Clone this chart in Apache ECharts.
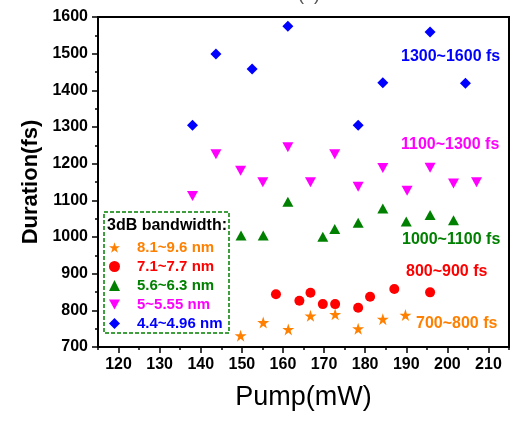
<!DOCTYPE html>
<html>
<head>
<meta charset="utf-8">
<script src="https://cdn.jsdelivr.net/npm/echarts@6/dist/echarts.min.js"></script>
<style>
  html, body { margin: 0; padding: 0; background: #fff; }
  #chart { width: 513px; height: 421px; }
</style>
</head>
<body>
<div id="chart"></div>
<script>
// values
const pumpOrange = [149.7, 155.2, 161.3, 166.7, 172.7, 178.3, 184.3, 189.8];
const durOrange = [731, 767, 748, 785, 789, 750, 776, 787];
const pumpRed = [158.3, 164.0, 166.7, 169.7, 172.7, 178.3, 181.2, 187.1, 195.8];
const durRed = [844, 826, 848, 817, 817, 807, 837, 858, 849];
const pumpGreen = [149.8, 155.2, 161.2, 169.7, 172.6, 178.3, 184.3, 190.0, 195.8, 201.5];
const durGreen = [1004, 1004, 1096, 1001, 1022, 1039, 1078, 1042, 1060, 1046];
const pumpMagenta = [138.0, 143.7, 149.7, 155.1, 161.2, 166.7, 172.6, 178.3, 184.3, 190.2, 195.8, 201.5, 207.1];
const durMagenta = [1112, 1226, 1181, 1149, 1245, 1149, 1226, 1137, 1188, 1126, 1189, 1146, 1149];
const pumpBlue = [138.0, 143.7, 152.5, 161.2, 178.3, 184.3, 195.8, 204.4];
const durBlue = [1305, 1499, 1458, 1575, 1305, 1421, 1559, 1419];

const seriesNames = ['8.1~9.6 nm', '7.1~7.7 nm', '5.6~6.3 nm', '5~5.55 nm', '4.4~4.96 nm'];
const rangeLabels = ['700~800 fs', '800~900 fs', '1000~1100 fs', '1100~1300 fs', '1300~1600 fs'];
const xMajorTicks = [120, 130, 140, 150, 160, 170, 180, 190, 200, 210];
const xMinorTicks = [115, 125, 135, 145, 155, 165, 175, 185, 195, 205, 215];

const colors = ['#FF8000', '#FF0000', '#008000', '#FF00FF', '#0000FF'];
const FONT = '"Liberation Sans", Arial, sans-serif';

const STAR = 'path://M5,0L6.18,3.6L10,3.6L6.9,5.9L8.1,9.5L5,7.3L1.9,9.5L3.1,5.9L0,3.6L3.8,3.6Z';
const DOWN = 'path://M0,0L10,0L5,9Z';

const zip = (xs, ys) => xs.map((x, i) => [x, ys[i]]);

const chart = echarts.init(document.getElementById('chart'));

const scatter = (idx, xs, ys, symbol, size) => ({
  name: seriesNames[idx],
  type: 'scatter',
  data: zip(xs, ys),
  symbol: symbol,
  symbolSize: size,
  itemStyle: {color: colors[idx], opacity: 1},
  xAxisIndex: 0,
  yAxisIndex: 0
});

const annot = (text, left, cy, color) => ({
  type: 'text',
  left: left,
  top: cy - 9,
  z: 100,
  style: {text: text, fill: color, font: 'bold 16px ' + FONT}
});

chart.setOption({
  animation: false,
  grid: {
    left: 98, right: 4, top: 17, bottom: 74,
    show: true, borderColor: '#000', borderWidth: 2
  },
  xAxis: [{
    type: 'value',
    min: 115, max: 215,
    name: 'Pump(mW)',
    nameLocation: 'middle',
    nameGap: 37,
    nameTextStyle: {fontFamily: FONT, fontSize: 27, color: '#000'},
    axisLine: {lineStyle: {color: '#000', width: 2}},
    axisTick: {show: true, inside: false, length: 6, customValues: xMajorTicks, lineStyle: {color: '#000', width: 1.5}},
    axisLabel: {customValues: xMajorTicks, margin: 10, fontFamily: FONT, fontSize: 16, fontWeight: 'bold', color: '#000'},
    splitLine: {show: false}
  }, {
    type: 'value',
    position: 'bottom',
    min: 115, max: 215,
    axisLine: {show: false},
    axisTick: {show: true, inside: false, length: 3, customValues: xMinorTicks, lineStyle: {color: '#000', width: 1.5}},
    axisLabel: {show: false},
    splitLine: {show: false}
  }],
  yAxis: {
    type: 'value',
    min: 700, max: 1600, interval: 100,
    name: 'Duration(fs)',
    nameLocation: 'middle',
    nameGap: 52,
    nameTextStyle: {fontFamily: FONT, fontSize: 22, fontWeight: 'bold', color: '#000'},
    axisLine: {show: true, lineStyle: {color: '#000', width: 2}},
    axisTick: {show: true, inside: false, length: 6, lineStyle: {color: '#000', width: 1.5}},
    minorTick: {show: true, splitNumber: 2, length: 3, lineStyle: {color: '#000', width: 1.5}},
    axisLabel: {
      margin: 10, fontFamily: FONT, fontSize: 16, fontWeight: 'bold', color: '#000',
      formatter: v => String(v)
    },
    splitLine: {show: false}
  },
  legend: {
    orient: 'vertical',
    left: 104, top: 235,
    itemWidth: 11, itemHeight: 11,
    itemGap: 4,
    data: seriesNames.map((n, i) => ({name: n, textStyle: {color: colors[i]}})),
    textStyle: {fontFamily: FONT, fontSize: 15, fontWeight: 'bold', padding: [0, 0, 0, 12]},
    z: 50
  },
  graphic: [
    {
      type: 'rect', z: 40,
      shape: {x: 104, y: 212, width: 125, height: 121},
      style: {fill: '#fff', stroke: '#008000', lineWidth: 1.5, lineDash: [4, 2]}
    },
    {
      type: 'text', left: 107, top: 218, z: 50,
      style: {text: '3dB bandwidth:', fill: '#000', font: 'bold 16px ' + FONT}
    },
    annot(rangeLabels[4], 401, 58, colors[4]),
    annot(rangeLabels[3], 401, 146, colors[3]),
    annot(rangeLabels[2], 402, 241, colors[2]),
    annot(rangeLabels[1], 406, 273, colors[1]),
    annot(rangeLabels[0], 416, 325, colors[0]),
    {
      type: 'text', left: 298, top: -14, z: 50,
      style: {text: '(a)', fill: '#555', font: '18px ' + FONT}
    }
  ],
  series: [
    scatter(0, pumpOrange, durOrange, STAR, 12),
    scatter(1, pumpRed, durRed, 'circle', 10),
    scatter(2, pumpGreen, durGreen, 'triangle', [11, 10]),
    scatter(3, pumpMagenta, durMagenta, DOWN, [11, 10]),
    scatter(4, pumpBlue, durBlue, 'diamond', [11, 11])
  ]
});
</script>
</body>
</html>
